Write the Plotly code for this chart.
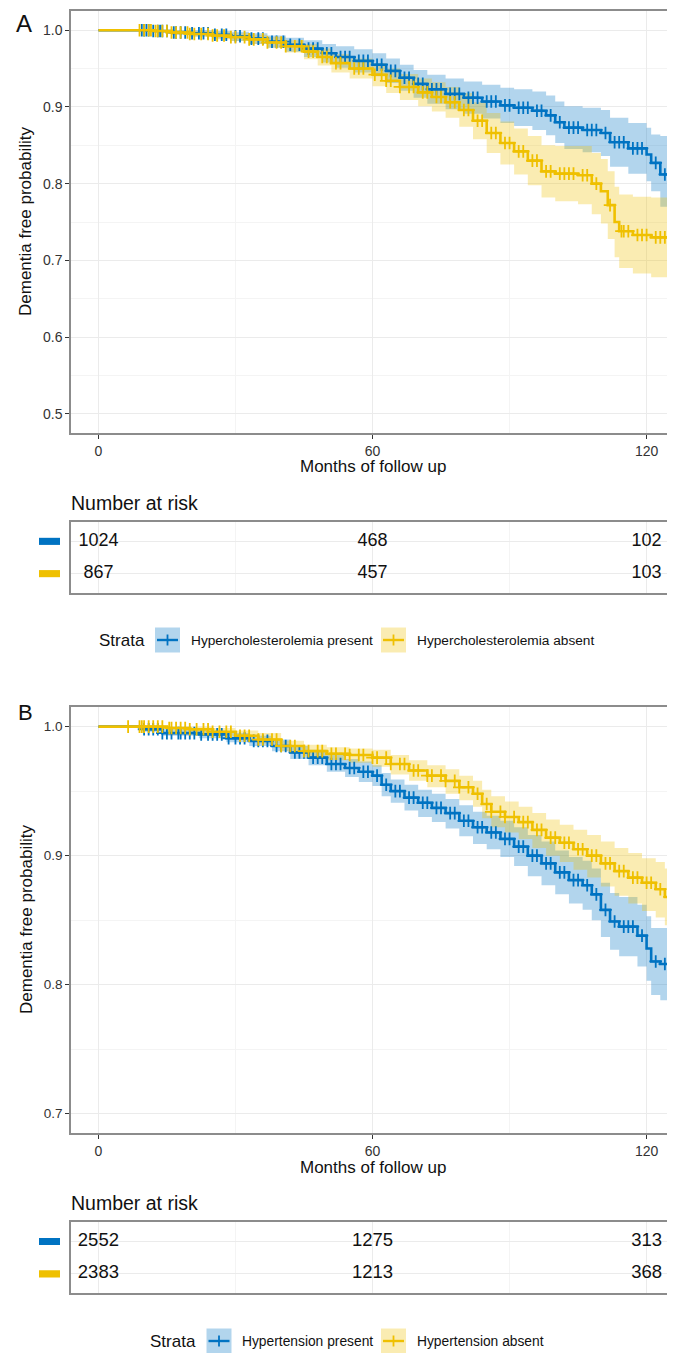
import numpy as np
import plotly.graph_objects as go

# ---------------- data ----------------
# Panel A: hypercholesterolemia (months, survival, 95% CI)
a_pres_t = [0, 12, 16, 20, 25, 29, 33, 37, 41, 45, 49, 52, 56, 60, 63, 66, 69, 72, 76, 80, 84, 88, 91, 95, 98, 100, 102, 106, 110, 112, 116, 120, 121, 123, 126]
a_pres_s = [1.0, .999, .997, .996, .994, .992, .989, .985, .981, .976, .970, .965, .960, .955, .947, .938, .930, .923, .917, .912, .907, .902, .899, .895, .889, .880, .873, .870, .866, .854, .846, .838, .827, .812, .812]
a_pres_lo = [1.0, .997, .994, .992, .989, .986, .982, .977, .972, .965, .958, .951, .945, .940, .931, .921, .912, .904, .897, .891, .885, .879, .875, .870, .863, .853, .845, .841, .836, .822, .813, .803, .790, .770, .763]
a_pres_hi = [1.0, 1.0, 1.0, 1.0, .999, .998, .996, .993, .990, .987, .982, .979, .975, .970, .963, .955, .948, .942, .937, .933, .929, .925, .923, .920, .915, .907, .901, .899, .896, .886, .879, .873, .864, .862, .862]
a_pres_cens = [9.5, 10, 10.5, 11, 12, 13, 13.5, 14, 15, 16.5, 17, 18, 19, 20.5, 22, 23, 24, 25.5, 27, 28, 30, 31, 33.5, 35, 36, 38, 39, 40.5, 42, 44, 46, 47, 48, 50, 51, 53, 54, 55, 57, 58, 59, 61, 62, 64, 65, 67, 68, 70, 71, 73, 74, 75, 77, 78, 79, 81, 82, 83, 85, 86, 87, 89, 90, 92, 93, 94, 96, 97, 99, 101, 103, 104, 105, 107, 108, 109, 111, 113, 114, 115, 117, 118, 119, 122, 124, 125]

a_abs_t = [0, 12, 16, 20, 25, 29, 33, 37, 41, 45, 48, 51, 55, 60, 63, 66, 70, 73, 76, 79, 82, 85, 88, 91, 94, 97, 100, 105, 108, 110, 111.5, 113, 114, 117, 121, 126]
a_abs_s = [1.0, .999, .997, .995, .993, .991, .988, .984, .979, .972, .965, .957, .950, .942, .934, .926, .919, .913, .906, .896, .882, .866, .853, .842, .830, .816, .813, .811, .800, .790, .772, .750, .738, .733, .730, .730]
a_abs_lo = [1.0, .997, .994, .991, .988, .986, .982, .977, .971, .962, .954, .945, .937, .927, .918, .909, .901, .894, .886, .874, .858, .840, .825, .812, .798, .782, .777, .773, .760, .748, .728, .704, .690, .683, .678, .678]
a_abs_hi = [1.0, 1.0, 1.0, .999, .998, .996, .994, .991, .987, .982, .976, .969, .963, .957, .950, .943, .937, .932, .926, .918, .906, .892, .881, .872, .862, .850, .849, .849, .840, .832, .816, .796, .786, .783, .782, .782]
a_abs_cens = [9, 10, 11, 11.5, 12.5, 13, 14, 15, 16, 17, 18, 19.5, 20, 21, 22.5, 24, 25, 26, 27.5, 29, 30, 32, 33, 34, 36, 37, 39, 40, 41, 43, 44.5, 46, 47, 49, 50, 52, 53, 56, 57, 58, 60.5, 62, 63, 64, 66, 68, 69, 71, 72, 74, 75, 77, 78, 80, 81, 83, 84, 86, 87, 89, 90, 92, 93, 95, 96, 98, 99, 101, 102, 103, 104, 106, 107, 109, 112, 114.5, 115, 116, 118, 119, 120, 122, 123, 124, 125]

# Panel B: hypertension
b_pres_t = [0, 10, 14, 22, 28, 33, 38, 42, 46, 50, 54, 57, 60, 62, 64, 67, 70, 73, 76, 79, 82, 85, 88, 91, 94, 97, 100, 103, 106, 108, 110, 112, 114, 118, 120, 121, 123, 126]
b_pres_s = [1.0, .998, .995, .994, .991, .989, .985, .980, .976, .971, .968, .965, .962, .955, .950, .945, .941, .937, .933, .927, .922, .918, .913, .907, .900, .894, .887, .881, .877, .870, .858, .849, .845, .838, .828, .818, .816, .816]
b_pres_lo = [1.0, .996, .993, .991, .988, .985, .981, .975, .970, .965, .961, .957, .954, .946, .941, .935, .930, .926, .921, .915, .909, .905, .899, .892, .884, .877, .870, .863, .858, .850, .837, .827, .822, .814, .803, .792, .788, .786]
b_pres_hi = [1.0, 1.0, .998, .997, .995, .993, .990, .985, .982, .978, .975, .973, .970, .964, .959, .955, .951, .948, .944, .939, .934, .931, .927, .922, .916, .911, .904, .899, .896, .890, .879, .871, .868, .862, .853, .844, .844, .845]
b_pres_cens = [10, 11, 12, 13, 14, 15, 16, 17.5, 18, 19, 20, 21, 22.5, 24, 25, 26, 27, 28.5, 30, 31, 32, 34, 35, 36, 37, 39, 40, 41, 43, 44, 45, 47, 48, 49, 51, 52, 53, 55, 56, 58, 59, 61, 63, 65, 66, 68, 69, 71, 72, 74, 75, 77, 78, 80, 81, 83, 84, 86, 87, 89, 90, 92, 93, 95, 96, 98, 99, 101, 102, 104, 105, 107, 109, 111, 113, 115, 116, 117, 119, 122, 124, 125]

b_abs_t = [0, 15, 20, 25, 30, 35, 40, 45, 50, 55, 60, 64, 68, 72, 76, 79, 82, 84, 86, 89, 92, 95, 98, 101, 104, 107, 110, 113, 116, 119, 122, 124, 126]
b_abs_s = [1.0, .999, .998, .996, .993, .990, .985, .981, .979, .978, .976, .971, .966, .962, .958, .953, .948, .940, .934, .930, .926, .920, .914, .910, .905, .900, .894, .888, .883, .879, .874, .868, .868]
b_abs_lo = [1.0, .997, .995, .993, .990, .987, .981, .977, .974, .972, .969, .963, .958, .953, .948, .943, .938, .929, .922, .918, .913, .906, .900, .895, .889, .883, .876, .869, .863, .857, .852, .846, .846]
b_abs_hi = [1.0, 1.0, 1.0, .999, .997, .995, .989, .986, .984, .983, .982, .978, .974, .970, .967, .962, .958, .951, .946, .942, .938, .933, .928, .924, .920, .916, .911, .906, .902, .898, .895, .890, .890]
b_abs_cens = [6.5, 9, 9.5, 10, 11, 12, 13, 14, 15.5, 16, 17, 18, 19, 20, 21.5, 23, 24, 25, 26.5, 28, 29, 31, 32, 33, 35, 36, 38, 39, 40, 42, 43, 45, 46, 48, 49, 51, 52, 54, 55, 57, 58, 60, 61, 63, 64, 66, 67, 69, 70, 72, 73, 75, 76, 78, 79, 81, 83, 85, 86, 88, 89, 91, 93, 94, 96, 97, 99, 100, 102, 103, 105, 106, 108, 109, 111, 112, 114, 115, 117, 118, 120, 121, 123, 125]

# Number at risk
risk_times = [0, 60, 120]
a_risk_pres = [1024, 468, 102]
a_risk_abs = [867, 457, 103]
b_risk_pres = [2552, 1275, 313]
b_risk_abs = [2383, 1213, 368]

a_labels = ["Hypercholesterolemia present", "Hypercholesterolemia absent"]
b_labels = ["Hypertension present", "Hypertension absent"]

# ---------------- style ----------------
PAGE_W, PAGE_H = 675, 1353
OFF = 8  # default body margin of the html page
W, H = PAGE_W - OFF, PAGE_H - OFF
BLUE = "#0073C2"
YELLOW = "#EFC000"
BLUE_FILL = "rgba(0,115,194,0.30)"
YELLOW_FILL = "rgba(239,192,0,0.30)"
FONT = "Liberation Sans, Arial, Helvetica, sans-serif"
GRID = "#EBEBEB"
GRID_MINOR = "#F4F4F4"
BORDER = "#8C8C8C"
TXT = "#333333"


def px(x):
    return (x - OFF) / W


def py(y):
    return 1 - (y - OFF) / H


def step_at(t, s, tc):
    idx = np.searchsorted(np.array(t), np.array(tc), side="right") - 1
    return np.array(s)[idx]


fig = go.Figure()


def add_km(xa, ya, t, lo, hi, color, fill):
    fig.add_trace(go.Scatter(x=t, y=lo, mode="lines", line=dict(width=0, shape="hv", color=color),
                             xaxis=xa, yaxis=ya, showlegend=False, hoverinfo="skip"))
    fig.add_trace(go.Scatter(x=t, y=hi, mode="lines", line=dict(width=0, shape="hv", color=color),
                             fill="tonexty", fillcolor=fill,
                             xaxis=xa, yaxis=ya, showlegend=False, hoverinfo="skip"))


def add_line(xa, ya, t, s, cens, color):
    fig.add_trace(go.Scatter(x=t, y=s, mode="lines", line=dict(width=2.6, shape="hv", color=color),
                             xaxis=xa, yaxis=ya, showlegend=False))
    fig.add_trace(go.Scatter(x=cens, y=step_at(t, s, cens), mode="markers",
                             marker=dict(symbol="cross-thin", size=9, line=dict(width=1.8, color=color)),
                             xaxis=xa, yaxis=ya, showlegend=False))


# Panel A
add_km("x", "y", a_pres_t, a_pres_lo, a_pres_hi, BLUE, BLUE_FILL)
add_km("x", "y", a_abs_t, a_abs_lo, a_abs_hi, YELLOW, YELLOW_FILL)
add_line("x", "y", a_pres_t, a_pres_s, a_pres_cens, BLUE)
add_line("x", "y", a_abs_t, a_abs_s, a_abs_cens, YELLOW)
# Panel B
add_km("x3", "y3", b_pres_t, b_pres_lo, b_pres_hi, BLUE, BLUE_FILL)
add_km("x3", "y3", b_abs_t, b_abs_lo, b_abs_hi, YELLOW, YELLOW_FILL)
add_line("x3", "y3", b_pres_t, b_pres_s, b_pres_cens, BLUE)
add_line("x3", "y3", b_abs_t, b_abs_s, b_abs_cens, YELLOW)

# risk tables
for xa, ya, pres, ab, fs in [("x2", "y2", a_risk_pres, a_risk_abs, 18), ("x4", "y4", b_risk_pres, b_risk_abs, 18.5)]:
    fig.add_trace(go.Scatter(x=risk_times, y=[2] * len(risk_times), mode="text", text=[str(v) for v in pres],
                             textfont=dict(size=fs, color="#111", family=FONT), xaxis=xa, yaxis=ya,
                             showlegend=False))
    fig.add_trace(go.Scatter(x=risk_times, y=[1] * len(risk_times), mode="text", text=[str(v) for v in ab],
                             textfont=dict(size=fs, color="#111", family=FONT), xaxis=xa, yaxis=ya,
                             showlegend=False))

XDOM = [px(71), px(674)]
common_x = dict(range=[-6, 126], domain=XDOM, showline=True, mirror=True, linecolor=BORDER, linewidth=1.5,
                tickvals=[0, 60, 120], showgrid=True, gridcolor=GRID, gridwidth=1, zeroline=False,
                minor=dict(tickvals=[30, 90], showgrid=True, gridcolor=GRID_MINOR, gridwidth=1))

plot_x = dict(common_x, ticks="outside", ticklen=4, tickwidth=1.2, tickcolor=TXT,
              tickfont=dict(size=14, color=TXT, family=FONT))
risk_x = dict(common_x, showticklabels=False, ticks="")

fig.update_layout(
    width=W, height=H, margin=dict(l=0, r=0, t=0, b=0), autosize=False,
    paper_bgcolor="white", plot_bgcolor="white", font=dict(family=FONT, color="#111"),
    xaxis=dict(plot_x, anchor="y"),
    yaxis=dict(domain=[py(433), py(11)], range=[0.475, 1.025], tickvals=[0.5, 0.6, 0.7, 0.8, 0.9, 1.0],
               tickformat=".1f", showline=True, mirror=True, linecolor=BORDER, linewidth=1.5,
               ticks="outside", ticklen=4, tickwidth=1.2, tickcolor=TXT,
               tickfont=dict(size=14, color=TXT, family=FONT), showgrid=True, gridcolor=GRID, zeroline=False,
               minor=dict(dtick=0.05, tick0=0.45, showgrid=True, gridcolor=GRID_MINOR), anchor="x"),
    xaxis2=dict(risk_x, anchor="y2"),
    yaxis2=dict(domain=[py(593), py(522)], range=[0.4, 2.6], tickvals=[1, 2], showticklabels=False, ticks="",
                showline=True, mirror=True, linecolor=BORDER, linewidth=1.5, showgrid=True, gridcolor=GRID,
                zeroline=False, anchor="x2"),
    xaxis3=dict(plot_x, anchor="y3"),
    yaxis3=dict(domain=[py(1133), py(707.3)], range=[0.685, 1.015], tickvals=[0.7, 0.8, 0.9, 1.0],
                tickformat=".1f", showline=True, mirror=True, linecolor=BORDER, linewidth=1.5,
                ticks="outside", ticklen=4, tickwidth=1.2, tickcolor=TXT,
                tickfont=dict(size=13.5, color=TXT, family=FONT), showgrid=True, gridcolor=GRID, zeroline=False,
                minor=dict(dtick=0.05, tick0=0.65, showgrid=True, gridcolor=GRID_MINOR), anchor="x3"),
    xaxis4=dict(risk_x, anchor="y4"),
    yaxis4=dict(domain=[py(1293.3), py(1222)], range=[0.4, 2.6], tickvals=[1, 2], showticklabels=False, ticks="",
                showline=True, mirror=True, linecolor=BORDER, linewidth=1.5, showgrid=True, gridcolor=GRID,
                zeroline=False, anchor="x4"),
)

ann = []
shapes = []


def text(x, y, s, size, xanchor="center", angle=0, color="#111"):
    ann.append(dict(x=px(x), y=py(y), xref="paper", yref="paper", text=s, showarrow=False,
                    font=dict(size=size, color=color, family=FONT), xanchor=xanchor, yanchor="middle",
                    textangle=angle))


# panel letters and axis titles
text(24, 24, "A", 24)
text(25, 712, "B", 22)
text(26, 222, "Dementia free probability", 17, angle=-90)
text(26, 920, "Dementia free probability", 17, angle=-90)
text(372.5, 467, "Months of follow up", 17)
text(372.5, 1167, "Months of follow up", 17)
text(69, 503, "Number at risk", 19.5, xanchor="left")
text(69, 1203, "Number at risk", 19.5, xanchor="left")

# risk table color keys
for ya in ["y2", "y4"]:
    for yv, col in [(2, BLUE), (1, YELLOW)]:
        shapes.append(dict(type="rect", xref="paper", yref=ya, x0=px(39), x1=px(60), y0=yv - 0.11, y1=yv + 0.11,
                           fillcolor=col, line=dict(width=0)))


def legend_key(x0, yc, col, fill):
    shapes.append(dict(type="rect", xref="paper", yref="paper", x0=px(x0), x1=px(x0 + 25),
                       y0=py(yc + 12.5), y1=py(yc - 12.5), fillcolor=fill, line=dict(width=0), layer="above"))
    shapes.append(dict(type="line", xref="paper", yref="paper", x0=px(x0 + 2), x1=px(x0 + 23),
                       y0=py(yc), y1=py(yc), line=dict(color=col, width=2.4), layer="above"))
    shapes.append(dict(type="line", xref="paper", yref="paper", x0=px(x0 + 12.5), x1=px(x0 + 12.5),
                       y0=py(yc - 5.5), y1=py(yc + 5.5), line=dict(color=col, width=1.8), layer="above"))


# legend A
text(121.5, 640, "Strata", 17)
legend_key(155, 640, BLUE, BLUE_FILL)
text(189, 640, a_labels[0], 13.7, xanchor="left")
legend_key(381, 640, YELLOW, YELLOW_FILL)
text(414.5, 640, a_labels[1], 13.7, xanchor="left")
# legend B
text(173, 1341, "Strata", 17)
legend_key(206.5, 1341, BLUE, BLUE_FILL)
text(240, 1341, b_labels[0], 13.8, xanchor="left")
legend_key(381, 1341, YELLOW, YELLOW_FILL)
text(415, 1341, b_labels[1], 13.8, xanchor="left")

fig.update_layout(annotations=ann, shapes=shapes)
fig.write_html("out.html")
